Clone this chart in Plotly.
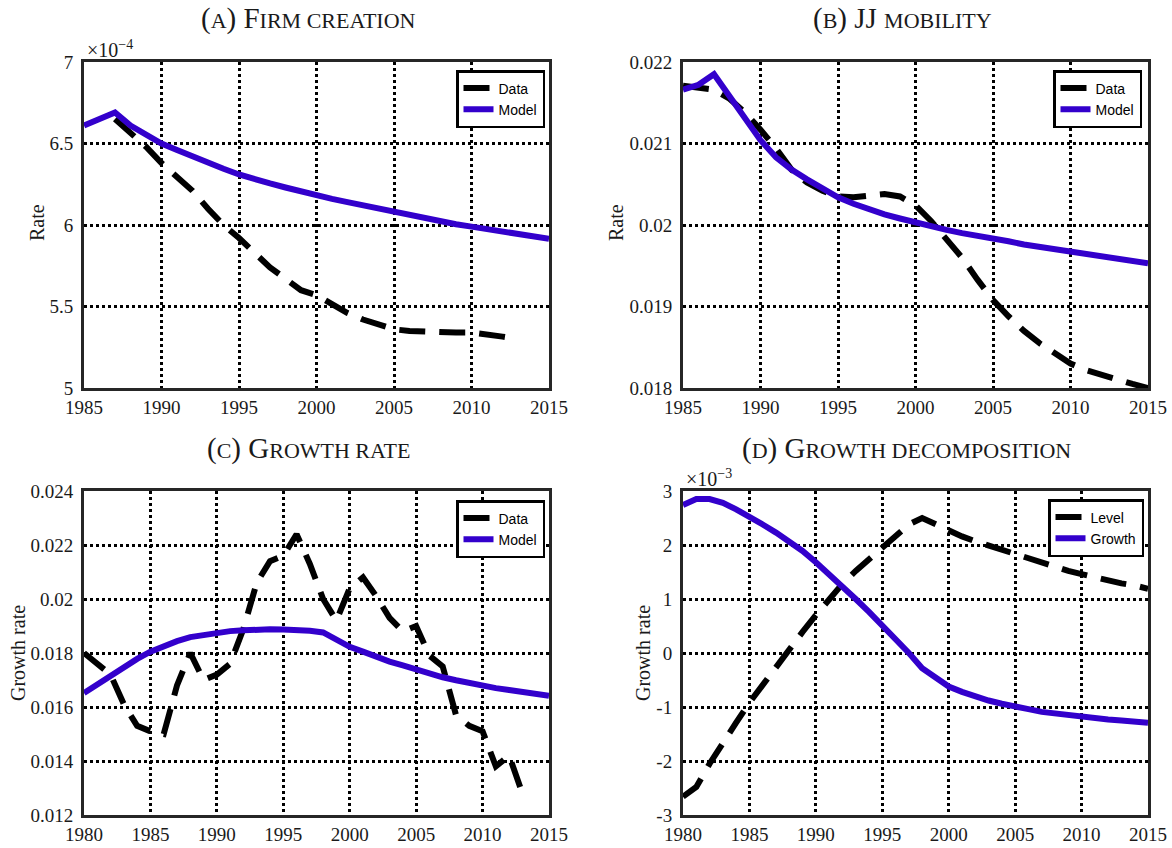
import plotly.graph_objects as go

W, H = 1172, 848

# ---- Panel A: firm creation (rate) ----
years_a_model = list(range(1985, 2016))
firm_model = [6.61, 6.65, 6.69, 6.61, 6.55, 6.50, 6.46, 6.42, 6.38, 6.345,
              6.31, 6.28, 6.255, 6.23, 6.205, 6.18, 6.16, 6.14, 6.12, 6.10,
              6.08, 6.06, 6.04, 6.025, 6.005, 5.99, 5.975, 5.96, 5.945, 5.93, 5.915]
years_a_data = list(range(1987, 2014))
firm_data = [6.65, 6.57, 6.48, 6.38, 6.30, 6.21, 6.10, 6.00, 5.92, 5.83,
             5.74, 5.67, 5.60, 5.57, 5.51, 5.46, 5.42, 5.39, 5.36, 5.35,
             5.345, 5.34, 5.34, 5.34, 5.33, 5.315, 5.30]
firm_scale = 1e-4

# ---- Panel B: JJ mobility (rate) ----
years_b = list(range(1985, 2016))
jj_model = [0.02166, 0.02172, 0.02185, 0.02157, 0.02130, 0.02104, 0.02083, 0.02068,
            0.02056, 0.02044, 0.02034, 0.02026, 0.02019, 0.02013, 0.02008, 0.02003,
            0.01998, 0.01994, 0.01990, 0.01987, 0.01983, 0.01980, 0.01976, 0.01973,
            0.01970, 0.01967, 0.01964, 0.01961, 0.01958, 0.01956, 0.01953]
jj_data = [0.02171, 0.02169, 0.02166, 0.02155, 0.02138, 0.02117, 0.02094, 0.02068,
           0.02052, 0.02042, 0.02035, 0.02034, 0.02036, 0.02038, 0.02035, 0.02024,
           0.02005, 0.01982, 0.01960, 0.01933, 0.01908, 0.01888, 0.01870, 0.01855,
           0.01843, 0.01830, 0.01822, 0.01816, 0.01810, 0.01805, 0.01800]

# ---- Panel C: growth rate ----
years_c_model = list(range(1980, 2016))
growth_model = [0.01652, 0.01683, 0.01719, 0.01750, 0.01778, 0.01805, 0.01826, 0.01844,
                0.01859, 0.01868, 0.01876, 0.01881, 0.01884, 0.01887, 0.01888, 0.01887,
                0.01886, 0.01882, 0.01876, 0.01848, 0.01823, 0.01805, 0.01785, 0.01768,
                0.01754, 0.01738, 0.01723, 0.01710, 0.01699, 0.01688, 0.01679, 0.01670,
                0.01663, 0.01656, 0.01649, 0.01642]
years_c_data = list(range(1980, 2014))
growth_data = [0.0180, 0.0176, 0.0172, 0.0161, 0.0153, 0.0151, 0.0150, 0.0168,
               0.0180, 0.0170, 0.0172, 0.0176, 0.0189, 0.0206, 0.0214, 0.0216,
               0.0224, 0.0213, 0.0200, 0.0192, 0.0204, 0.0208, 0.0201, 0.0193,
               0.0188, 0.0190, 0.0179, 0.0175, 0.0157, 0.0153, 0.0151, 0.0138,
               0.0142, 0.0128]

# ---- Panel D: growth decomposition (x 1e-3) ----
years_d = list(range(1980, 2016))
decomp_level = [-2.66, -2.48, -2.05, -1.69, -1.29, -0.92, -0.59, -0.25, 0.09, 0.39,
                0.70, 1.00, 1.28, 1.52, 1.74, 1.95, 2.19, 2.38, 2.50, 2.38,
                2.25, 2.16, 2.07, 1.99, 1.91, 1.83, 1.75, 1.67, 1.59, 1.52,
                1.46, 1.40, 1.34, 1.29, 1.25, 1.19]
decomp_growth = [2.74, 2.85, 2.85, 2.78, 2.66, 2.53, 2.38, 2.23, 2.07, 1.89,
                 1.68, 1.46, 1.25, 1.00, 0.76, 0.51, 0.24, 0.00, -0.28, -0.46,
                 -0.62, -0.72, -0.81, -0.88, -0.94, -1.00, -1.04, -1.09, -1.12, -1.15,
                 -1.19, -1.21, -1.23, -1.25, -1.26, -1.29]
decomp_scale = 1e-3

# tick labels
ticks_a = [5.0, 5.5, 6.0, 6.5, 7.0]
ticktext_a = ["5", "5.5", "6", "6.5", "7"]
ticks_b = [0.018, 0.019, 0.020, 0.021, 0.022]
ticktext_b = ["0.018", "0.019", "0.02", "0.021", "0.022"]
ticks_c = [0.012, 0.014, 0.016, 0.018, 0.020, 0.022, 0.024]
ticktext_c = ["0.012", "0.014", "0.016", "0.018", "0.02", "0.022", "0.024"]
ticks_d = [-3, -2, -1, 0, 1, 2, 3]
ticktext_d = ["-3", "-2", "-1", "0", "1", "2", "3"]

BLUE = "rgb(51,0,204)"
DASH = "26px,14px"
LW = 6
SERIF = "Liberation Serif"
SANS = "Liberation Sans"
FRAME = "#262626"


def px(x):
    return x / W


def py(y):
    return 1 - y / H


fig = go.Figure()

panels = {
    "a": dict(xd=(84, 549), yd=(62, 388), xr=[1985, 2015], yr=[5e-4, 7e-4],
              tv=[v * firm_scale for v in ticks_a], tt=ticktext_a,
              xt=list(range(1985, 2016, 5))),
    "b": dict(xd=(683, 1148), yd=(62, 388), xr=[1985, 2015], yr=[0.018, 0.022],
              tv=ticks_b, tt=ticktext_b, xt=list(range(1985, 2016, 5))),
    "c": dict(xd=(84, 549), yd=(491, 815), xr=[1980, 2015], yr=[0.012, 0.024],
              tv=ticks_c, tt=ticktext_c, xt=list(range(1980, 2016, 5))),
    "d": dict(xd=(683, 1148), yd=(491, 815), xr=[1980, 2015], yr=[-3e-3, 3e-3],
              tv=[v * decomp_scale for v in ticks_d], tt=ticktext_d,
              xt=list(range(1980, 2016, 5))),
}

axis_ids = {"a": ("x", "y", ""), "b": ("x2", "y2", "2"),
            "c": ("x3", "y3", "3"), "d": ("x4", "y4", "4")}
legend_ids = {"a": "legend", "b": "legend2", "c": "legend3", "d": "legend4"}

series = {
    "a": [("Data", years_a_data, [v * firm_scale for v in firm_data], "black", DASH),
          ("Model", years_a_model, [v * firm_scale for v in firm_model], BLUE, "solid")],
    "b": [("Data", years_b, jj_data, "black", DASH),
          ("Model", years_b, jj_model, BLUE, "solid")],
    "c": [("Data", years_c_data, growth_data, "black", DASH),
          ("Model", years_c_model, growth_model, BLUE, "solid")],
    "d": [("Level", years_d, [v * decomp_scale for v in decomp_level], "black", DASH),
          ("Growth", years_d, [v * decomp_scale for v in decomp_growth], BLUE, "solid")],
}

for key, items in series.items():
    xa, ya, _ = axis_ids[key]
    for name, xs, ys, color, dash in items:
        fig.add_trace(go.Scatter(
            x=xs, y=ys, mode="lines", name=name,
            line=dict(color=color, width=LW, dash=dash),
            xaxis=xa, yaxis=ya, legend=legend_ids[key], showlegend=True,
        ))

layout = dict(
    width=W, height=H,
    margin=dict(l=0, r=0, t=0, b=0),
    paper_bgcolor="white", plot_bgcolor="white",
    showlegend=True,
)

for key, p in panels.items():
    _, _, suf = axis_ids[key]
    xname, yname = "xaxis" + suf, "yaxis" + suf
    anchor_x = "y" + suf
    anchor_y = "x" + suf
    common = dict(
        showline=True, mirror=True, linecolor=FRAME, linewidth=3,
        showgrid=True, gridcolor="black", gridwidth=2.5, griddash="3px,3px",
        zeroline=False, ticks="", automargin=False, fixedrange=True,
        tickfont=dict(family=SERIF, size=19, color="#1a1a1a"),
        layer="below traces",
    )
    layout[xname] = dict(common, domain=[px(p["xd"][0]), px(p["xd"][1])],
                         range=p["xr"], tickvals=p["xt"],
                         ticktext=[str(v) for v in p["xt"]], anchor=anchor_x)
    layout[yname] = dict(common, domain=[py(p["yd"][1]), py(p["yd"][0])],
                         range=p["yr"], tickvals=p["tv"], ticktext=p["tt"],
                         anchor=anchor_y, ticklabelstandoff=4)

legend_pos = {"legend": (545, 70), "legend2": (1142, 70),
              "legend3": (545, 500), "legend4": (1144, 499)}
for lg, (rx, ty) in legend_pos.items():
    layout[lg] = dict(
        x=px(rx), y=py(ty), xanchor="right", yanchor="top",
        xref="paper", yref="paper",
        bgcolor="white", bordercolor="black", borderwidth=2.5,
        font=dict(family=SANS, size=14, color="black"),
        tracegroupgap=0, itemwidth=30,
    )

fig.update_layout(**layout)

SC = 22  # small-caps size
titles = [
    ('(<span style="font-size:%dpx">A</span>) F<span style="font-size:%dpx">IRM CREATION</span>' % (SC, SC), 308, 19),
    ('(<span style="font-size:%dpx">B</span>) JJ <span style="font-size:%dpx">MOBILITY</span>' % (SC, SC), 902, 19),
    ('(<span style="font-size:%dpx">C</span>) G<span style="font-size:%dpx">ROWTH RATE</span>' % (SC, SC), 308, 449),
    ('(<span style="font-size:%dpx">D</span>) G<span style="font-size:%dpx">ROWTH DECOMPOSITION</span>' % (SC, SC), 906, 449),
]
for text, cx, cy in titles:
    fig.add_annotation(text=text, x=px(cx), y=py(cy), xref="paper", yref="paper",
                       xanchor="center", yanchor="middle", showarrow=False,
                       font=dict(family=SERIF, size=29, color="#1a1a1a"))

ylabels = [("Rate", 37, 223), ("Rate", 616, 223),
           ("Growth rate", 18, 653), ("Growth rate", 643, 653)]
for text, cx, cy in ylabels:
    fig.add_annotation(text=text, x=px(cx), y=py(cy), xref="paper", yref="paper",
                       xanchor="center", yanchor="middle", showarrow=False,
                       textangle=-90,
                       font=dict(family=SERIF, size=20, color="#1a1a1a"))

exponents = [("×10<sup>−4</sup>", 85, 49), ("×10<sup>−3</sup>", 684, 478)]
for text, lx, cy in exponents:
    fig.add_annotation(text=text, x=px(lx), y=py(cy), xref="paper", yref="paper",
                       xanchor="left", yanchor="middle", showarrow=False,
                       font=dict(family=SERIF, size=20, color="#1a1a1a"))

fig.write_html("out.html")
